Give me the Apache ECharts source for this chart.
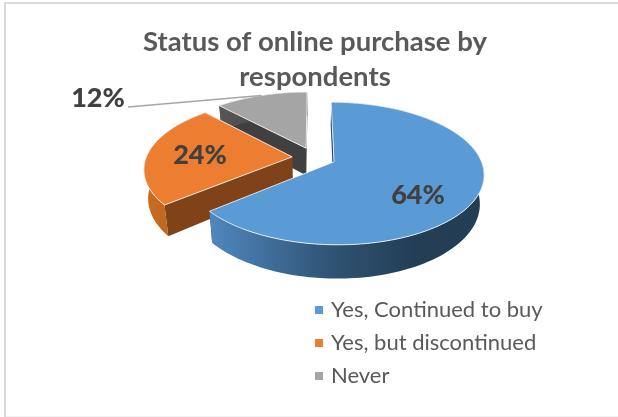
<!DOCTYPE html>
<html>
<head>
<meta charset="utf-8">
<style>
    html, body { margin: 0; padding: 0; background: #fff; }
    #chart { width: 618px; height: 417px; }
</style>
</head>
<body>
<div id="chart"></div>
<script src="https://cdn.jsdelivr.net/npm/echarts@6/dist/echarts.min.js"></script>
<script>
let categories = ['Yes, Continued to buy', 'Yes, but discontinued', 'Never'];
let values = [64, 24, 12];
let valueLabels = ['64%', '24%', '12%'];
let titleText = 'Status of online purchase by\nrespondents';

let topColors = ['#5B9BD5', '#ED7D31', '#A5A5A5'];
let cutColors = ['#2A4A68', '#7F4219', '#404040'];
let wallStops = [
    [[0, '#4F86BC'], [0.45, '#2F5373'], [0.75, '#243E56'], [1, '#233D55']],
    [[0, '#CC6C20'], [1, '#A55A1C']],
    [[0, '#555555'], [1, '#404040']]
];
let labelPos = [[418, 195], [200, 155], [98, 98]];

// 透视投影参数
let originX = 314;
let originY = 157.5;
let radiusX = 146;
let radiusY = 68;
let perspective = 0.161;
let depth = 28;
let bottomShrink = 0.975; // 底面比顶面略窄
let explode = 0.15;

let total = values.reduce((a, b) => a + b, 0);

function project(wx, wy, down) {
    let d = 1 + perspective * wy;
    let x = radiusX * wx / d;
    return [
        originX + (down ? x * bottomShrink : x),
        originY - radiusY * wy / d + (down ? depth / d : 0)
    ];
}

function sliceAngles(index) {
    let before = values.slice(0, index).reduce((a, b) => a + b, 0);
    return [before / total * 2 * Math.PI, (before + values[index]) / total * 2 * Math.PI];
}

// 角度从正上方顺时针计
function rimPoint(index, angle, down) {
    let [a0, a1] = sliceAngles(index);
    let mid = (a0 + a1) / 2;
    return project(
        explode * Math.sin(mid) + Math.sin(angle),
        explode * Math.cos(mid) + Math.cos(angle),
        down
    );
}

function apexPoint(index, down) {
    let [a0, a1] = sliceAngles(index);
    let mid = (a0 + a1) / 2;
    return project(explode * Math.sin(mid), explode * Math.cos(mid), down);
}

function rimArc(index, down) {
    let [a0, a1] = sliceAngles(index);
    let pts = [];
    let steps = Math.ceil((a1 - a0) / 0.03);
    for (let i = 0; i <= steps; i++) {
        pts.push(rimPoint(index, a0 + (a1 - a0) * i / steps, down));
    }
    return pts;
}

function cutFace(index, angle) {
    return [
        apexPoint(index, false),
        rimPoint(index, angle, false),
        rimPoint(index, angle, true),
        apexPoint(index, true)
    ];
}

function renderSlice(index) {
    return function () {
        let [a0, a1] = sliceAngles(index);
        let top = rimArc(index, false);
        let bottom = rimArc(index, true);
        let xs = bottom.map(p => p[0]);
        let wallFill = {
            type: 'linear',
            global: true,
            x: Math.min(...xs),
            y: 0,
            x2: Math.max(...xs),
            y2: 0,
            colorStops: wallStops[index].map(s => ({ offset: s[0], color: s[1] }))
        };
        let edge = { stroke: '#ffffff', lineWidth: 0.8, opacity: 1 };
        let children = [
            {
                type: 'polygon',
                shape: { points: cutFace(index, a0) },
                style: { fill: cutColors[index] }
            },
            {
                type: 'polygon',
                shape: { points: cutFace(index, a1) },
                style: { fill: cutColors[index] }
            },
            {
                type: 'polygon',
                shape: { points: top.concat(bottom.slice().reverse()) },
                style: { fill: wallFill }
            },
            {
                type: 'polygon',
                shape: { points: [apexPoint(index, false)].concat(top) },
                style: Object.assign({ fill: topColors[index] }, edge)
            }
        ];
        // 只有最小的扇区带引导线
        if (index === values.length - 1) {
            let mid = (a0 + a1) / 2;
            let end = rimPoint(index, mid, false);
            children.push({
                type: 'line',
                shape: { x1: labelPos[index][0] + 30, y1: labelPos[index][1] + 9, x2: end[0], y2: end[1] },
                style: { stroke: '#A6A6A6', lineWidth: 1.5 }
            });
        }
        children.push({
            type: 'text',
            x: labelPos[index][0],
            y: labelPos[index][1],
            style: {
                text: valueLabels[index],
                fill: '#404040',
                font: '900 27px Lato, "Open Sans", sans-serif',
                align: 'center',
                verticalAlign: 'middle'
            }
        });
        return { type: 'group', children: children };
    };
}

let myChart = echarts.init(document.getElementById('chart'), null, { renderer: 'canvas' });

myChart.setOption({
    animation: false,
    backgroundColor: '#ffffff',
    title: {
        text: titleText,
        left: 310,
        top: 20,
        textAlign: 'center',
        textStyle: {
            color: '#595959',
            fontFamily: 'Lato, "Open Sans", sans-serif',
            fontWeight: 'bold',
            fontSize: 27.5,
            lineHeight: 35
        }
    },
    legend: {
        orient: 'vertical',
        left: 310,
        top: 292,
        icon: 'rect',
        itemWidth: 8,
        itemHeight: 8,
        itemGap: 7,
        data: categories,
        textStyle: {
            color: '#595959',
            fontFamily: 'Lato, "Open Sans", sans-serif',
            fontSize: 22,
            lineHeight: 26,
            padding: [0, 0, 0, 3]
        }
    },
    graphic: [
        {
            type: 'rect',
            shape: { x: 4, y: 2, width: 614, height: 2 },
            style: { fill: '#D9D9D9' }
        },
        {
            type: 'rect',
            shape: { x: 4, y: 2, width: 2, height: 415 },
            style: { fill: '#D9D9D9' }
        },
        {
            type: 'rect',
            shape: { x: 6, y: 416, width: 612, height: 1 },
            style: { fill: '#F2F2F2' }
        }
    ],
    series: categories.map((name, index) => ({
        type: 'custom',
        name: name,
        coordinateSystem: 'none',
        z: categories.length - index + 1,
        silent: true,
        itemStyle: { color: topColors[index] },
        renderItem: renderSlice(index),
        data: [values[index]]
    }))
});
</script>
</body>
</html>
